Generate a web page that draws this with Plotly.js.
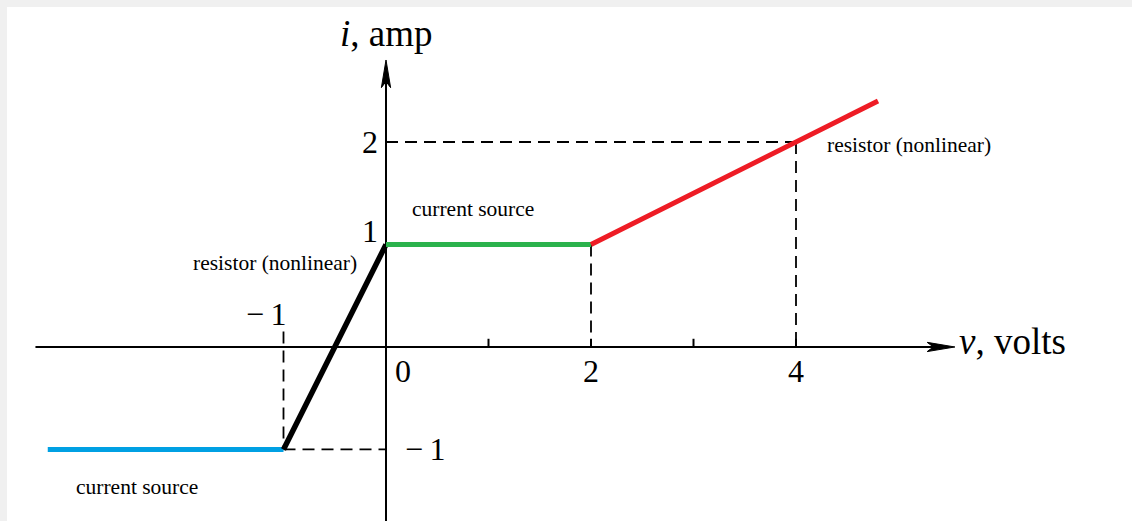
<!DOCTYPE html>
<html>
<head>
<meta charset="utf-8">
<script src="https://cdn.plot.ly/plotly-3.0.1.min.js"></script>
<style>
  html, body { margin: 0; padding: 0; background: #f0f0f0; }
  #chart { width: 1132px; height: 521px; }
</style>
</head>
<body>
<div id="chart"></div>
<script>
// Piecewise-linear i–v characteristic: current source / nonlinear resistor pieces
const sourceLowV = [-3.3, -1];      // lower current source
const sourceLowI = [-1, -1];
const resistorLeftV = [-1, 0];      // steep resistor piece
const resistorLeftI = [-1, 1];
const sourceHighV = [0, 2];         // upper current source
const sourceHighI = [1, 1];
const resistorRightV = [2, 4, 4.8]; // resistor piece with slope 1/2
const resistorRightI = [1, 2, 2.4];

// Tick labels on the axes
const vTickVals = [0, 2, 4];
const vTickText = ['0', '2', '4'];
const vMinorTicks = [1, 2, 3, 4];
const iTickVals = [1, 2, -1];
const iTickText = ['1', '2', '\u2212\u20091'];

// Axis extents (data units)
const vAxisMin = -3.42, vAxisMax = 5.55;
const iAxisMin = -1.8, iAxisMax = 2.8;
const xRange = [-3.6976, 7.278];
const yRange = [-1.698, 3.317];

const serif = 'Liberation Serif, Times New Roman, serif';
const traces = [];

function seg(x, y, color, width, dash) {
  traces.push({
    x: x, y: y, type: 'scatter', mode: 'lines', hoverinfo: 'skip',
    line: { color: color, width: width, dash: dash || 'solid' }
  });
}

// Dashed guide lines to the axes
const guideDash = '12px,7px';
seg([-1, -1], [0.15, -1], '#000', 1.8, guideDash);
seg([-1, 0], [-1, -1], '#000', 1.8, guideDash);
seg([2, 2], [1, 0], '#000', 1.8, guideDash);
seg([4, 4], [2, 0], '#000', 1.8, guideDash);
seg([0, 4], [2, 2], '#000', 1.8, guideDash);

// Axes
seg([vAxisMin, vAxisMax - 0.2], [0, 0], '#000', 2);
seg([0, 0], [iAxisMin, iAxisMax - 0.2], '#000', 2);

// Small ticks on the v axis
vMinorTicks.forEach(v => seg([v, v], [0, 0.08], '#000', 2));

// Arrowheads
const ax = 0.27, aw = 0.045, an = 0.06;
traces.push({
  x: [vAxisMax, vAxisMax - ax, vAxisMax - ax + an, vAxisMax - ax, vAxisMax],
  y: [0, aw, 0, -aw, 0],
  type: 'scatter', mode: 'lines', fill: 'toself', fillcolor: '#000',
  line: { color: '#000', width: 1 }, hoverinfo: 'skip'
});
traces.push({
  x: [0, aw, 0, -aw, 0],
  y: [iAxisMax, iAxisMax - ax, iAxisMax - ax + an, iAxisMax - ax, iAxisMax],
  type: 'scatter', mode: 'lines', fill: 'toself', fillcolor: '#000',
  line: { color: '#000', width: 1 }, hoverinfo: 'skip'
});

// Characteristic pieces
seg(sourceLowV, sourceLowI, '#00a0e3', 5);
seg(resistorLeftV, resistorLeftI, '#000000', 5.5);
seg(sourceHighV, sourceHighI, '#2bb24c', 5);
seg(resistorRightV, resistorRightI, '#ee1c25', 5);

const numFont = { family: serif, size: 32, color: '#000' };
const noteFont = { family: serif, size: 21.5, color: '#000' };
const titleFont = { family: serif, size: 37, color: '#000' };

const annotations = [];
function label(x, y, text, font, xshift, yshift, xanchor) {
  annotations.push({
    x: x, y: y, xref: 'x', yref: 'y', text: text, showarrow: false,
    font: font, xshift: xshift || 0, yshift: yshift || 0,
    xanchor: xanchor || 'center', yanchor: 'middle'
  });
}

// v-axis tick labels
label(vTickVals[0], 0, vTickText[0], numFont, 17, -24);
label(vTickVals[1], 0, vTickText[1], numFont, 0, -24);
label(vTickVals[2], 0, vTickText[2], numFont, 0, -24);
label(-1, 0, '\u2212\u20091', numFont, -18, 33);

// i-axis tick labels
label(0, iTickVals[0], iTickText[0], numFont, -16, 13);
label(0, iTickVals[1], iTickText[1], numFont, -16, 0);
label(0, iTickVals[2], iTickText[2], numFont, 39, 0);

// Axis titles
label(0, iAxisMax, '<i>i</i>, amp', titleFont, 0, 26);
label(vAxisMax, 0, '<i>v</i>,\u00a0volts', titleFont, 2, 5, 'left');

// Piece descriptions
label(0.85, 1, 'current source', noteFont, 0, 35);
label(-1.08, 0.82, 'resistor (nonlinear)', noteFont, 0, 0);
label(5.1, 2, 'resistor (nonlinear)', noteFont, 0, -3);
label(-2.43, -1, 'current source', noteFont, 0, -38);

const layout = {
  width: 1132, height: 521,
  margin: { l: 7, r: 0, t: 7, b: 0, pad: 0 },
  paper_bgcolor: '#f0f0f0',
  plot_bgcolor: '#ffffff',
  showlegend: false,
  xaxis: { range: xRange, visible: false, fixedrange: true },
  yaxis: { range: yRange, visible: false, fixedrange: true },
  annotations: annotations
};

Plotly.newPlot('chart', traces, layout, { displayModeBar: false, staticPlot: true });
</script>
</body>
</html>
